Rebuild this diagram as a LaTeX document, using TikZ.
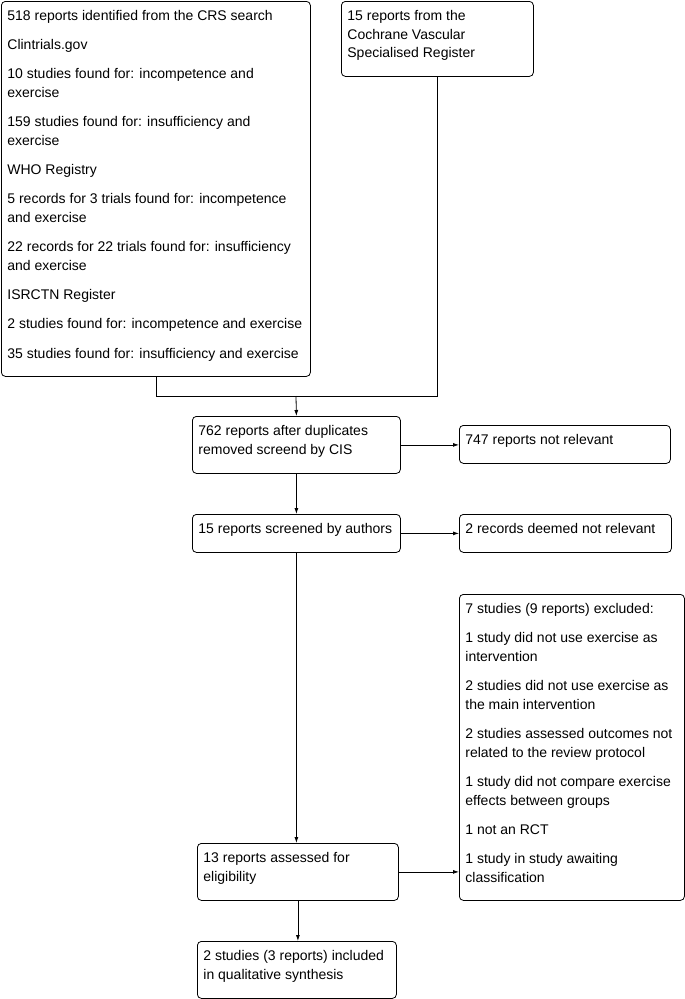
\documentclass[tikz,border=0pt]{standalone}
\usepackage{fontspec}
\setmainfont{Liberation Sans}
\usetikzlibrary{arrows.meta}
% text of a flow box: width, height, lines
\newcommand{\boxtxt}[3]{\parbox[t][#2][t]{#1}{\raggedright\leftskip=6pt\setlength{\parskip}{10.5pt}\rule{0pt}{19pt}#3}}

\begin{document}
\begin{tikzpicture}[x=1pt, y=-1pt, line width=0.8pt,
  box/.style={draw, rounded corners=4pt, anchor=north west, inner sep=0pt,
    font=\fontsize{14}{18.7}\selectfont},
  arr/.style={-{Latex[length=6pt,width=4pt]}}]
  \useasboundingbox (0,0) rectangle (685,999);

  % sources
  \node[box] (crs) at (1,1) {\boxtxt{309pt}{375pt}{%
    518 reports identified from the CRS search\par
    Clintrials.gov\par
    10 studies found for: incompetence and\\ exercise\par
    159 studies found for: insufficiency and\\ exercise\par
    WHO Registry\par
    5 records for 3 trials found for: incompetence\\ and exercise\par
    22 records for 22 trials found for: insufficiency\\ and exercise\par
    ISRCTN Register\par
    2 studies found for: incompetence and exercise\par
    35 studies found for: insufficiency and exercise}};
  \node[box] (cvsr) at (341,1) {\boxtxt{192pt}{75pt}{%
    15 reports from the\\ Cochrane Vascular\\ Specialised Register}};

  % screening
  \node[box] (dup) at (192,416) {\boxtxt{208pt}{57pt}{%
    762 reports after duplicates\\ removed screend by CIS}};
  \node[box] (notrel) at (459,425) {\boxtxt{211pt}{38pt}{747 reports not relevant}};
  \node[box] (auth) at (192,514) {\boxtxt{208pt}{38pt}{15 reports screened by authors}};
  \node[box] (deemed) at (459,514) {\boxtxt{212pt}{38pt}{2 records deemed not relevant}};

  % eligibility
  \node[box] (excl) at (459,594) {\boxtxt{225pt}{306pt}{%
    7 studies (9 reports) excluded:\par
    1 study did not use exercise as\\ intervention\par
    2 studies did not use exercise as\\ the main intervention\par
    2 studies assessed outcomes not\\ related to the review protocol\par
    1 study did not compare exercise\\ effects between groups\par
    1 not an RCT\par
    1 study in study awaiting\\ classification}};
  \node[box] (elig) at (197,843) {\boxtxt{201pt}{57pt}{13 reports assessed for\\ eligibility}};
  \node[box] (incl) at (197,941) {\boxtxt{199pt}{57pt}{%
    2 studies (3 reports) included\\ in qualitative synthesis}};

  % connectors
  \coordinate (join) at (296,396);
  \draw (crs.south) |- (join);
  \draw (cvsr.south) |- (join);
  \draw[arr] (join) -- (dup.north);
  \draw[arr] (dup.east) -- (dup.east -| notrel.west);
  \draw[arr] (dup.south) -- (auth.north);
  \draw[arr] (auth.east) -- (deemed.west);
  \draw[arr] (auth.south) -- (auth.south |- elig.north);
  \draw[arr] (elig.east) -- (elig.east -| excl.west);
  \draw[arr] (elig.south) -- (elig.south |- incl.north);
\end{tikzpicture}
\end{document}
